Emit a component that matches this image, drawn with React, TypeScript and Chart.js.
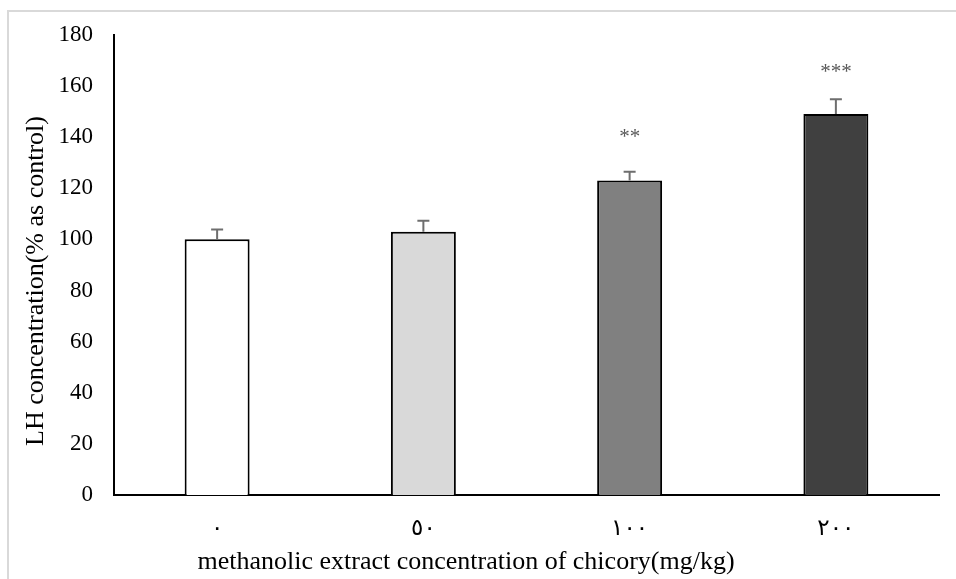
import React, { useEffect, useRef } from "react";
import { Chart, registerables } from "chart.js";

Chart.register(...registerables);

const categories = ["٠", "٥٠", "١٠٠", "٢٠٠"];
const values = [100, 103, 123, 149];
const errors = [3.8, 4.3, 3.4, 5.8];
const significance = ["", "", "**", "***"];
const significanceLevel = [0, 0, 142, 167.5];
const barColors = ["#ffffff", "#d9d9d9", "#808080", "#404040"];
const yTicks = [0, 20, 40, 60, 80, 100, 120, 140, 160, 180];
const xTitle = "methanolic extract concentration of chicory(mg/kg)";
const yTitle = "LH concentration(% as control)";

const FONT = "'Liberation Serif', 'Times New Roman', 'DejaVu Sans', serif";

const overlayPlugin = {
  id: "overlay",
  afterDatasetsDraw(chart: any) {
    const ctx = chart.ctx;
    const meta = chart.getDatasetMeta(0);
    const y = chart.scales.y;
    ctx.save();
    // error bars
    ctx.strokeStyle = "#6e6e6e";
    ctx.lineWidth = 2;
    meta.data.forEach((bar: any, i: number) => {
      const x = bar.x;
      const yb = y.getPixelForValue(values[i]);
      const yt = y.getPixelForValue(values[i] + errors[i]);
      ctx.beginPath();
      ctx.moveTo(x, yb);
      ctx.lineTo(x, yt);
      ctx.moveTo(x - 6, yt);
      ctx.lineTo(x + 6, yt);
      ctx.stroke();
    });
    // significance stars
    ctx.fillStyle = "#595959";
    ctx.font = `21px ${FONT}`;
    ctx.textAlign = "center";
    ctx.textBaseline = "alphabetic";
    meta.data.forEach((bar: any, i: number) => {
      if (!significance[i]) return;
      const py = y.getPixelForValue(significanceLevel[i]);
      ctx.fillText(significance[i], bar.x, py + 11);
    });
    // axis titles
    ctx.fillStyle = "#000000";
    ctx.font = `26px ${FONT}`;
    ctx.textAlign = "center";
    ctx.textBaseline = "middle";
    ctx.fillText(xTitle, 466, 562);
    ctx.translate(36, 281);
    ctx.rotate(-Math.PI / 2);
    ctx.fillText(yTitle, 0, 0);
    ctx.restore();
  },
};

export default function App() {
  const ref = useRef<HTMLCanvasElement | null>(null);
  useEffect(() => {
    if (!ref.current) return;
    const chart = new Chart(ref.current, {
      type: "bar",
      data: {
        labels: categories,
        datasets: [
          {
            data: values,
            backgroundColor: barColors,
            borderColor: "#000000",
            borderWidth: 2,
            categoryPercentage: 1,
            barPercentage: 0.315,
          },
        ],
      },
      options: {
        animation: false,
        responsive: false,
        devicePixelRatio: 1,
        layout: { padding: { left: 0, right: 17, top: 31, bottom: 0 } },
        plugins: {
          legend: { display: false },
          tooltip: { enabled: false },
        },
        scales: {
          x: {
            grid: { display: false, drawTicks: false },
            border: { color: "#000000", width: 2 },
            ticks: {
              color: "#000000",
              font: { family: FONT, size: 23 },
              padding: 20,
            },
            afterFit(scale: any) {
              scale.height = 84;
            },
          },
          y: {
            min: 0,
            max: 180,
            afterBuildTicks(scale: any) {
              scale.ticks = yTicks.map((v) => ({ value: v }));
            },
            grid: { display: false, drawTicks: false },
            border: { color: "#000000", width: 2 },
            ticks: {
              color: "#000000",
              font: { family: FONT, size: 23 },
              padding: 21,
            },
            afterFit(scale: any) {
              scale.width = 114;
            },
          },
        },
      },
      plugins: [overlayPlugin],
    });
    return () => chart.destroy();
  }, []);
  return (
    <div style={{ position: "absolute", left: 0, top: 0, width: 956, height: 579, background: "#ffffff" }}>
      <div
        style={{
          position: "absolute",
          left: 7,
          top: 10,
          right: 0,
          bottom: 0,
          borderLeft: "2px solid #d9d9d9",
          borderTop: "2px solid #d9d9d9",
        }}
      />
      <canvas ref={ref} width={956} height={579} style={{ position: "absolute", left: 0, top: 0 }} />
    </div>
  );
}
